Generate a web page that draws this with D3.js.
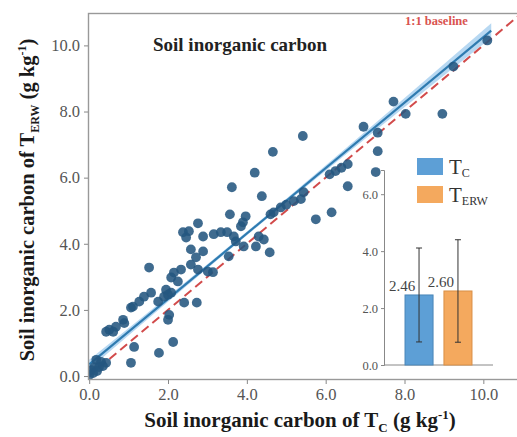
<!DOCTYPE html>
<html>
<head>
<meta charset="utf-8">
<script src="https://cdn.jsdelivr.net/npm/d3@7/dist/d3.min.js"></script>
<style>
  html, body { margin: 0; padding: 0; background: #fff; }
  svg { display: block; }
  text { font-family: "Liberation Serif", "Times New Roman", serif; }
</style>
</head>
<body>
<svg id="chart" width="517" height="437"></svg>
<script>
// Paired soil inorganic carbon samples (g kg-1): control (Tc) vs. ERW treatment (Terw)
const sicControl = [
  10.1, 9.24, 7.72, 8.03, 8.96, 6.96, 7.32, 5.42, 4.66, 7.32, 4.2, 7.27, 6.56, 6.4, 6.25, 6.1,
  6.56, 5.44, 3.62, 4.38, 5.37, 5.19, 5.0, 4.86, 4.68, 4.6, 5.75, 6.15, 3.57, 3.97, 3.9, 3.85,
  3.16, 3.34, 3.5, 3.67, 3.72, 2.89, 4.3, 4.23, 4.43, 4.58, 3.92, 2.89, 3.54, 3.01, 3.14,
  2.76, 2.38, 2.53, 2.46, 2.58, 2.71, 1.52, 2.58, 2.33, 2.76, 2.15, 2.08, 2.25, 1.95, 2.08,
  1.57, 1.39, 1.27, 1.11, 1.06, 1.75, 1.9, 2.0, 2.41, 2.73, 2.03, 2.0, 0.86, 0.89, 0.68, 0.51,
  0.43, 0.61, 1.14, 2.13, 1.77, 1.06, 0.18, 0.3, 0.43, 0.13, 0.05, 0.1, 0.0, 0.25, 0.35, 0.2
];
const sicErw = [
  10.15, 9.36, 8.3, 7.93, 7.93, 7.54, 7.36, 7.26, 6.78, 6.8, 6.15, 6.17, 6.41, 6.3, 6.2, 6.1,
  5.74, 5.56, 5.71, 5.44, 5.35, 5.29, 5.18, 5.1, 4.95, 4.89, 4.74, 4.95, 4.89, 4.83, 4.65, 4.53,
  4.29, 4.35, 4.35, 4.22, 4.07, 4.22, 4.22, 3.92, 4.13, 3.74, 3.92, 3.77, 3.62, 3.16, 3.14,
  4.62, 4.35, 4.38, 4.19, 3.83, 3.59, 3.28, 3.37, 3.22, 3.22, 3.13, 2.98, 2.86, 2.61, 2.52,
  2.52, 2.4, 2.25, 2.1, 2.07, 2.25, 2.4, 2.46, 2.22, 2.22, 1.85, 1.7, 1.7, 1.6, 1.49, 1.4,
  1.34, 1.34, 0.88, 1.03, 0.7, 0.4, 0.49, 0.43, 0.4, 0.27, 0.18, 0.09, 0.03, 0.27, 0.3, 0.15
];

// Linear fit of Terw on Tc with its confidence band half-widths
const fitSlope = 0.99;
const fitIntercept = 0.35;
const bandX = [0, 2.5, 5, 7.5, 10.2];
const bandHalf = [0.14, 0.07, 0.06, 0.12, 0.22];

const xTicks = [0, 2, 4, 6, 8, 10];
const yTicks = [0, 2, 4, 6, 8, 10];

// Inset: mean ± SD per treatment
const groups = ["TC", "TERW"];
const groupMeans = [2.46, 2.60];
const groupSD = [1.65, 1.8];
const insetTicks = [0, 2, 4, 6];

const svg = d3.select("#chart");
const grey = "#888";
const tickGrey = "#555";

const x = d3.scaleLinear().domain([-0.03, 10.93]).range([88, 520]);
const y = d3.scaleLinear().domain([-0.12, 10.98]).range([380, 13]);

const defs = svg.append("defs");
defs.append("clipPath").attr("id", "plotClip")
  .append("rect").attr("x", 88).attr("y", 13).attr("width", 432).attr("height", 367);

const plot = svg.append("g").attr("clip-path", "url(#plotClip)");

// confidence band
const bandArea = d3.area()
  .x(d => x(d))
  .y0((d, i) => y(fitIntercept + fitSlope * d - bandHalf[i]))
  .y1((d, i) => y(fitIntercept + fitSlope * d + bandHalf[i]))
  .curve(d3.curveMonotoneX);
plot.append("path").datum(bandX)
  .attr("d", bandArea)
  .attr("fill", "#9fcbee").attr("opacity", 0.75);

// 1:1 reference line
plot.append("line")
  .attr("x1", x(-0.03)).attr("y1", y(-0.03))
  .attr("x2", x(11)).attr("y2", y(11))
  .attr("stroke", "#d24b4b").attr("stroke-width", 2)
  .attr("stroke-dasharray", "9,5");

// fitted line
const fitLine = d3.line().x(d => x(d)).y(d => y(fitIntercept + fitSlope * d));
plot.append("path").datum([0, 10.2])
  .attr("d", fitLine)
  .attr("stroke", "#2f7bb0").attr("stroke-width", 2.2).attr("fill", "none");

// sample points
plot.append("g").selectAll("circle")
  .data(sicControl.map((v, i) => [v, sicErw[i]]))
  .join("circle")
  .attr("cx", d => x(d[0]))
  .attr("cy", d => y(d[1]))
  .attr("r", 4.9)
  .attr("fill", "#24577f")
  .attr("fill-opacity", 0.88);

// frame
svg.append("rect")
  .attr("x", 88.5).attr("y", 13.5).attr("width", 440).attr("height", 366)
  .attr("fill", "none").attr("stroke", "#999").attr("stroke-width", 1.4);

// axes
const xAxis = d3.axisBottom(x).tickValues(xTicks).tickFormat(d3.format(".1f"))
  .tickSize(4).tickPadding(4);
const gx = svg.append("g").attr("transform", "translate(0,380)").call(xAxis);
const yAxis = d3.axisLeft(y).tickValues(yTicks).tickFormat(d3.format(".1f"))
  .tickSize(4).tickPadding(4);
const gy = svg.append("g").attr("transform", "translate(88,0)").call(yAxis);
[gx, gy].forEach(g => {
  g.select(".domain").remove();
  g.selectAll(".tick line").attr("stroke", grey);
  g.selectAll(".tick text").attr("fill", tickGrey)
    .style("font-family", "'Liberation Serif', serif").style("font-size", "16.5px");
});

// panel title
svg.append("text").attr("x", 153).attr("y", 51)
  .attr("font-size", 19).attr("font-weight", "bold").attr("fill", "#222")
  .text("Soil inorganic carbon");

// 1:1 label
svg.append("text").attr("x", 405).attr("y", 25)
  .attr("font-size", 12.5).attr("font-weight", "bold").attr("fill", "#d9534f")
  .text("1:1 baseline");

// axis titles
const xLab = svg.append("text").attr("x", 300).attr("y", 427)
  .attr("text-anchor", "middle").attr("font-size", 21).attr("font-weight", "bold").attr("fill", "#1a1a1a");
xLab.append("tspan").text("Soil inorganic carbon of T");
xLab.append("tspan").attr("font-size", 13).attr("dy", 5).text("C");
xLab.append("tspan").attr("dy", -5).text(" (g kg");
xLab.append("tspan").attr("font-size", 13).attr("dy", -8).text("-1");
xLab.append("tspan").attr("dy", 8).text(")");

const yLab = svg.append("text")
  .attr("transform", "translate(34,200) rotate(-90)")
  .attr("text-anchor", "middle").attr("font-size", 20.5).attr("font-weight", "bold").attr("fill", "#1a1a1a");
yLab.append("tspan").text("Soil inorganic carbon of T");
yLab.append("tspan").attr("font-size", 12).attr("dy", 5).text("ERW");
yLab.append("tspan").attr("dy", -5).text(" (g kg");
yLab.append("tspan").attr("font-size", 12).attr("dy", -8).text("-1");
yLab.append("tspan").attr("dy", 8).text(")");

// ---- inset bar chart ----
const xb = d3.scaleBand().domain(groups).range([384, 493]).paddingInner(0.28).paddingOuter(0.54);
const yb = d3.scaleLinear().domain([0, 6.85]).range([365, 170]);
const barFill = { TC: "#5d9fd6", TERW: "#f4a95e" };
const barStroke = { TC: "#4a86b8", TERW: "#d98f46" };

const inset = svg.append("g");
const ib = d3.axisLeft(yb).tickValues(insetTicks).tickFormat(d3.format(".1f")).tickSize(3).tickPadding(3);
const gib = inset.append("g").attr("transform", "translate(384,0)").call(ib);
gib.select(".domain").attr("stroke", grey);
gib.selectAll(".tick line").attr("stroke", grey);
gib.selectAll(".tick text").attr("fill", tickGrey)
  .style("font-family", "'Liberation Serif', serif").style("font-size", "12.5px");
inset.append("line").attr("x1", 384).attr("x2", 493).attr("y1", yb(0)).attr("y2", yb(0))
  .attr("stroke", grey).attr("stroke-width", 1);

const barData = groups.map((g, i) => ({ g, m: groupMeans[i], sd: groupSD[i] }));
inset.selectAll("rect.bar").data(barData).join("rect")
  .attr("class", "bar")
  .attr("x", d => xb(d.g)).attr("width", xb.bandwidth())
  .attr("y", d => yb(d.m)).attr("height", d => yb(0) - yb(d.m))
  .attr("fill", d => barFill[d.g]).attr("stroke", d => barStroke[d.g]).attr("stroke-width", 1);

const err = inset.selectAll("g.err").data(barData).join("g").attr("class", "err")
  .attr("transform", d => `translate(${xb(d.g) + xb.bandwidth() / 2},0)`);
err.append("line").attr("y1", d => yb(d.m - d.sd)).attr("y2", d => yb(d.m + d.sd))
  .attr("stroke", "#333").attr("stroke-width", 1);
err.append("line").attr("x1", -3).attr("x2", 3).attr("y1", d => yb(d.m + d.sd)).attr("y2", d => yb(d.m + d.sd))
  .attr("stroke", "#333").attr("stroke-width", 1);
err.append("line").attr("x1", -3).attr("x2", 3).attr("y1", d => yb(d.m - d.sd)).attr("y2", d => yb(d.m - d.sd))
  .attr("stroke", "#333").attr("stroke-width", 1);

inset.selectAll("text.val").data(barData).join("text")
  .attr("class", "val")
  .attr("x", d => xb(d.g) + xb.bandwidth() / 2 - 17)
  .attr("y", d => yb(d.m) - 4)
  .attr("text-anchor", "middle").attr("font-size", 15).attr("fill", "#444")
  .text(d => d3.format(".2f")(d.m));

// legend
const legend = svg.append("g");
const legSub = { TC: "C", TERW: "ERW" };
groups.forEach((g, i) => {
  const ly = 158 + i * 28;
  legend.append("rect").attr("x", 417).attr("y", ly).attr("width", 26).attr("height", 17)
    .attr("fill", barFill[g]);
  const t = legend.append("text").attr("x", 449).attr("y", ly + 16)
    .attr("font-size", 21).attr("fill", "#333");
  t.append("tspan").text("T");
  t.append("tspan").attr("font-size", 12).attr("dy", 3).text(legSub[g]);
});
</script>
</body>
</html>
